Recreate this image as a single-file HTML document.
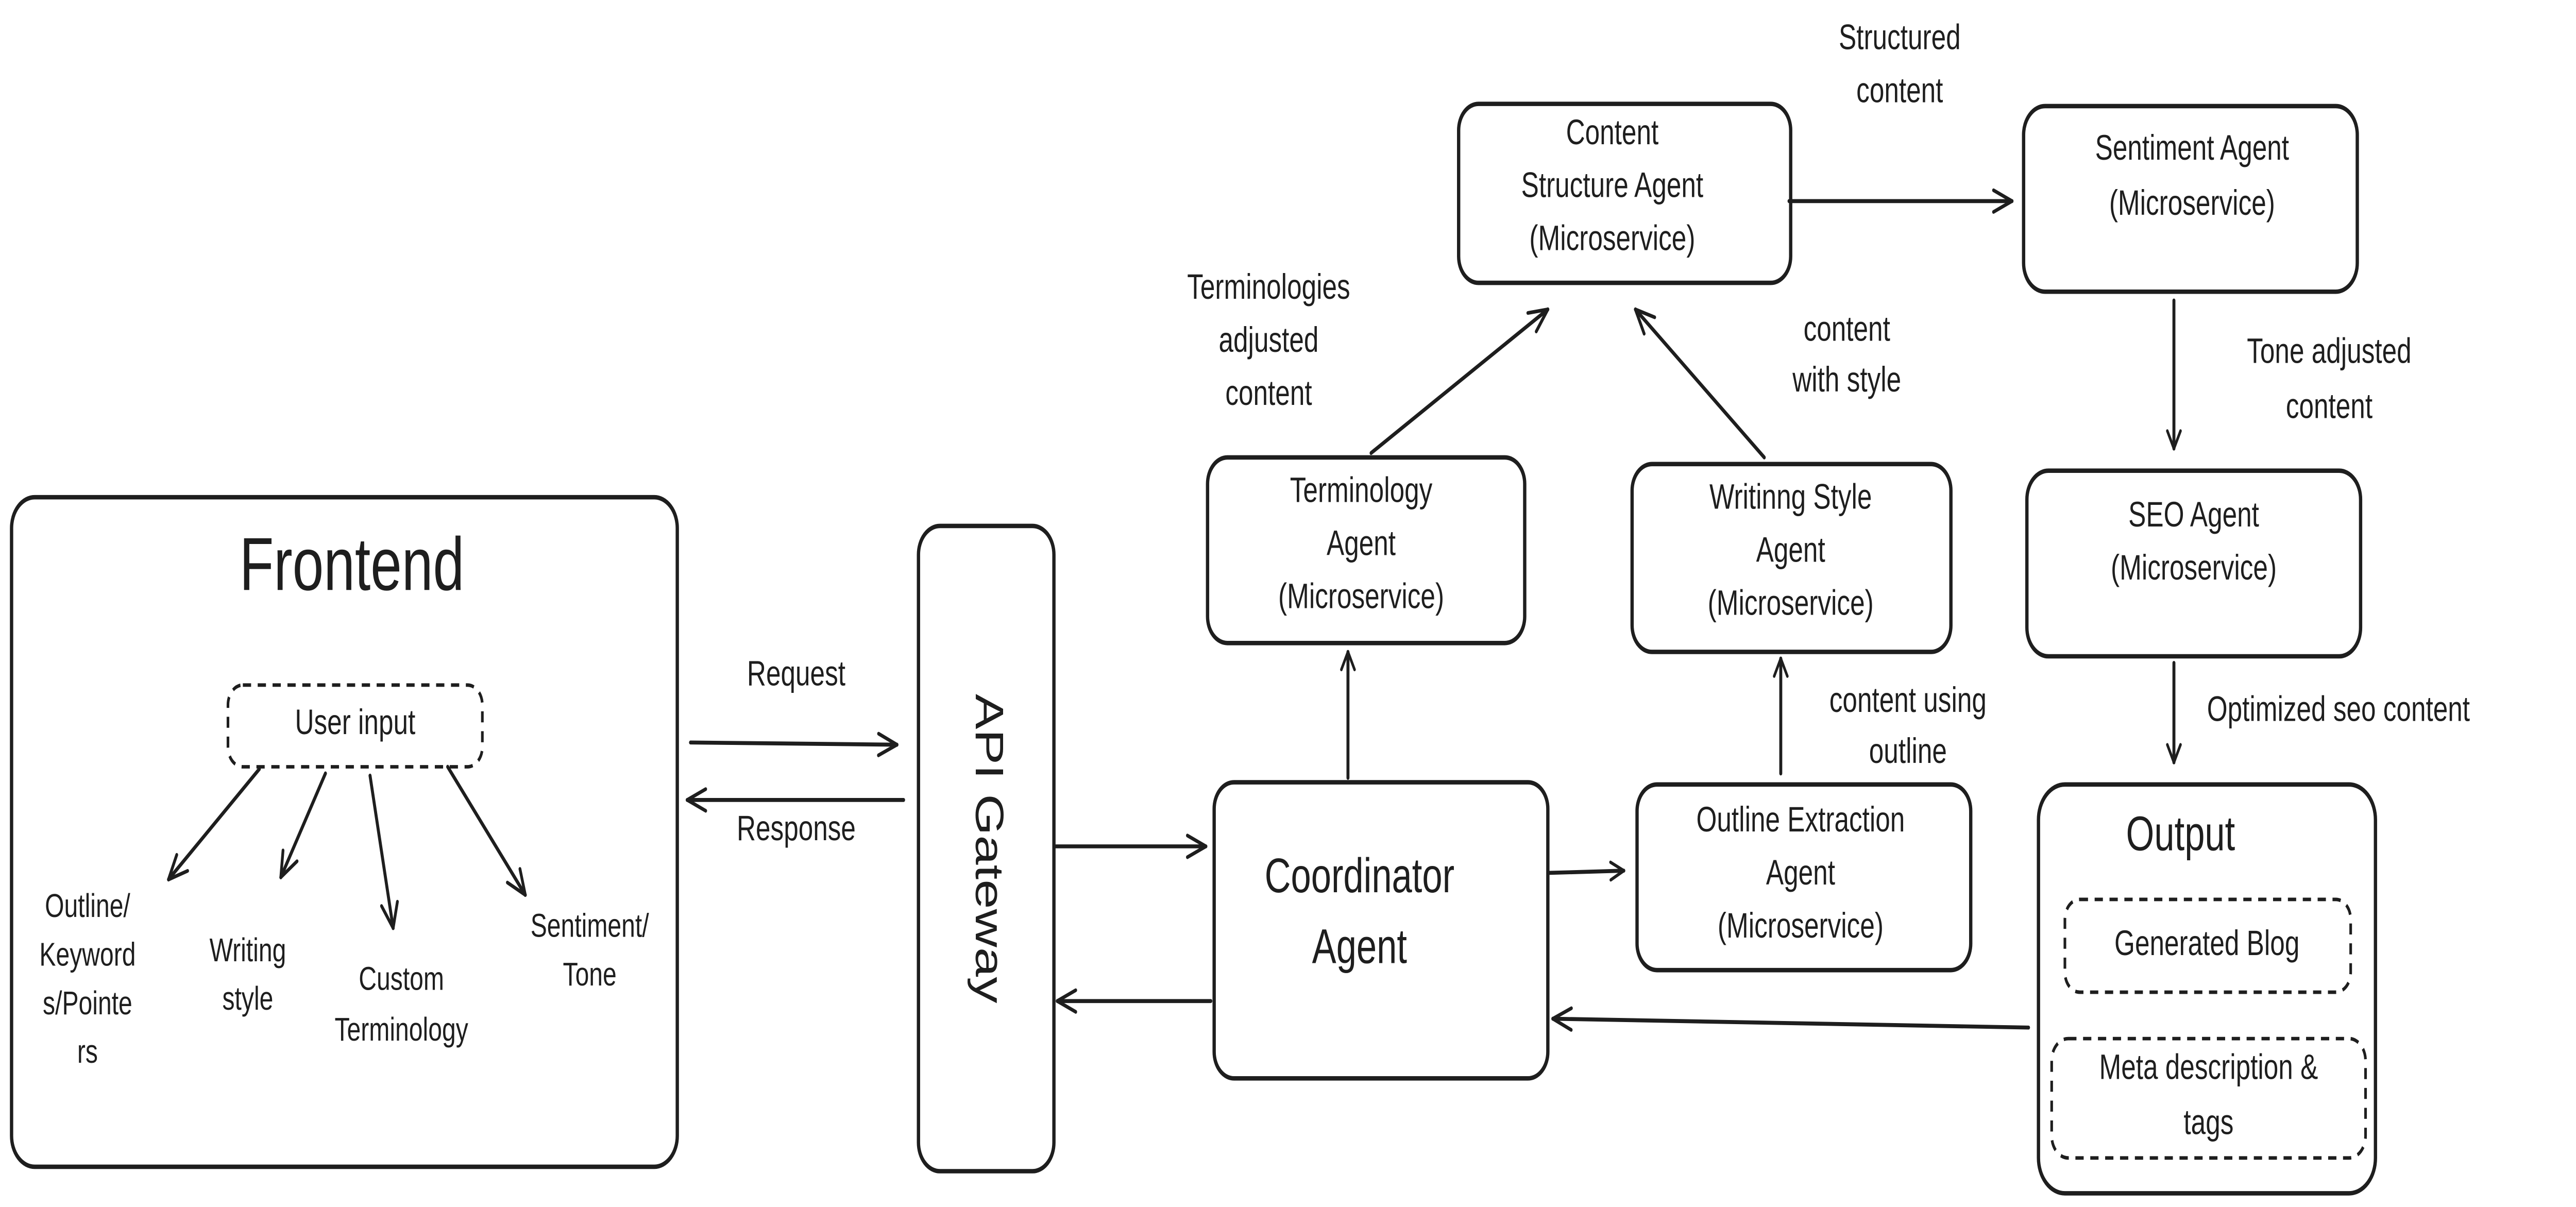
<!DOCTYPE html>
<html><head><meta charset="utf-8"><style>
html,body{margin:0;padding:0;background:#fff;width:100%;height:100%;overflow:hidden;}
svg{display:block;width:100vw;height:100vh;}
text{font-family:"Liberation Sans Narrow","Liberation Sans",sans-serif;fill:#1e1e1e;text-anchor:middle;dominant-baseline:middle;}
.b{fill:none;stroke:#1e1e1e;stroke-width:2;}
.d{fill:none;stroke:#1e1e1e;stroke-width:1.6;stroke-dasharray:5 4;}
.l{fill:none;stroke:#1e1e1e;stroke-width:1.8;stroke-linecap:round;stroke-linejoin:round;}
.s{font-size:15px;}
.m{font-size:16px;}
</style></head><body>
<svg viewBox="0 0 1559.4 546.2" preserveAspectRatio="none" xmlns="http://www.w3.org/2000/svg">
<defs>
<marker id="a" viewBox="0 0 20 20" refX="18" refY="10" markerWidth="10" markerHeight="10" markerUnits="userSpaceOnUse" orient="auto">
<path d="M2,2 L18,10 L2,18" fill="none" stroke="#1e1e1e" stroke-width="3" stroke-linecap="round" stroke-linejoin="round"/>
</marker>
<marker id="A" viewBox="0 0 20 20" refX="18" refY="10" markerWidth="14" markerHeight="14" markerUnits="userSpaceOnUse" orient="auto">
<path d="M2,3 L18,10 L2,17" fill="none" stroke="#1e1e1e" stroke-width="2.4" stroke-linecap="round" stroke-linejoin="round"/>
</marker>
</defs>

<rect class="b" x="7" y="225" width="403" height="303" rx="14"/>
<text x="213" y="258" style="font-size:34px">Frontend</text>
<rect class="d" x="138" y="310" width="154" height="37" rx="9"/>
<text x="215" y="328" class="m">User input</text>
<line class="l" x1="157" y1="348" x2="102" y2="398" marker-end="url(#A)"/>
<line class="l" x1="197" y1="350" x2="170" y2="397" marker-end="url(#A)"/>
<line class="l" x1="224" y1="351" x2="238" y2="420" marker-end="url(#A)"/>
<line class="l" x1="271" y1="347" x2="318" y2="405" marker-end="url(#A)"/>
<text x="53" y="411" class="s">Outline/</text>
<text x="53" y="433" class="s">Keyword</text>
<text x="53" y="455" class="s">s/Pointe</text>
<text x="53" y="477" class="s">rs</text>
<text x="150" y="431" class="s">Writing</text>
<text x="150" y="453" class="s">style</text>
<text x="243" y="444" class="s">Custom</text>
<text x="243" y="467" class="s">Terminology</text>
<text x="357" y="420" class="s">Sentiment/</text>
<text x="357" y="442" class="s">Tone</text>

<rect class="b" x="556" y="238" width="82" height="292" rx="13"/>
<text transform="translate(597,384) rotate(90)" style="font-size:24px">API Gateway</text>
<line class="l" x1="418" y1="336" x2="543" y2="337" marker-end="url(#A)"/>
<text x="482" y="306" class="m">Request</text>
<line class="l" x1="547" y1="362" x2="416" y2="362" marker-end="url(#A)"/>
<text x="482" y="376" class="m">Response</text>
<line class="l" x1="639" y1="383" x2="730" y2="383" marker-end="url(#A)"/>
<line class="l" x1="733" y1="453" x2="640" y2="453" marker-end="url(#A)"/>

<rect class="b" x="735" y="354" width="202" height="134" rx="12"/>
<text x="823" y="398" style="font-size:22px">Coordinator</text>
<text x="823" y="430" style="font-size:22px">Agent</text>
<line class="l" x1="938" y1="395" x2="983" y2="394" marker-end="url(#a)"/>
<line class="l" x1="1228" y1="465" x2="940" y2="461" marker-end="url(#A)"/>

<rect class="b" x="991" y="355" width="202" height="84" rx="12"/>
<text x="1090" y="372" class="m">Outline Extraction</text>
<text x="1090" y="396" class="m">Agent</text>
<text x="1090" y="420" class="m">(Microservice)</text>
<line class="l" x1="1078" y1="350" x2="1078" y2="298" marker-end="url(#a)"/>
<text x="1155" y="318" class="m">content using</text>
<text x="1155" y="341" class="m">outline</text>

<rect class="b" x="988" y="210" width="193" height="85" rx="12"/>
<text x="1084" y="226" class="m">Writinng Style</text>
<text x="1084" y="250" class="m">Agent</text>
<text x="1084" y="274" class="m">(Microservice)</text>
<line class="l" x1="1068" y1="207" x2="990" y2="140" marker-end="url(#A)"/>
<text x="1118" y="150" class="m">content</text>
<text x="1118" y="173" class="m">with style</text>

<line class="l" x1="816" y1="352" x2="816" y2="295" marker-end="url(#a)"/>
<rect class="b" x="731" y="207" width="192" height="84" rx="12"/>
<text x="824" y="223" class="m">Terminology</text>
<text x="824" y="247" class="m">Agent</text>
<text x="824" y="271" class="m">(Microservice)</text>
<line class="l" x1="830" y1="205" x2="937" y2="140" marker-end="url(#A)"/>
<text x="768" y="131" class="m">Terminologies</text>
<text x="768" y="155" class="m">adjusted</text>
<text x="768" y="179" class="m">content</text>

<rect class="b" x="883" y="47" width="201" height="81" rx="12"/>
<text x="976" y="61" class="m">Content</text>
<text x="976" y="85" class="m">Structure Agent</text>
<text x="976" y="109" class="m">(Microservice)</text>
<line class="l" x1="1083" y1="91" x2="1218" y2="91" marker-end="url(#A)"/>
<text x="1150" y="18" class="m">Structured</text>
<text x="1150" y="42" class="m">content</text>

<rect class="b" x="1225" y="48" width="202" height="84" rx="13"/>
<text x="1327" y="68" class="m">Sentiment Agent</text>
<text x="1327" y="93" class="m">(Microservice)</text>
<line class="l" x1="1316" y1="136" x2="1316" y2="203" marker-end="url(#a)"/>
<text x="1410" y="160" class="m">Tone adjusted</text>
<text x="1410" y="185" class="m">content</text>

<rect class="b" x="1227" y="213" width="202" height="84" rx="13"/>
<text x="1328" y="234" class="m">SEO Agent</text>
<text x="1328" y="258" class="m">(Microservice)</text>
<line class="l" x1="1316" y1="300" x2="1316" y2="345" marker-end="url(#a)"/>
<text x="1336" y="322" class="m" style="text-anchor:start">Optimized seo content</text>

<rect class="b" x="1234" y="355" width="204" height="185" rx="16"/>
<text x="1320" y="379" style="font-size:22px">Output</text>
<rect class="d" x="1250" y="407" width="173" height="42" rx="9"/>
<text x="1336" y="428" class="m">Generated Blog</text>
<rect class="d" x="1242" y="470" width="190" height="54" rx="10"/>
<text x="1337" y="484" class="m">Meta description &amp;</text>
<text x="1337" y="509" class="m">tags</text>
</svg>
</body></html>
